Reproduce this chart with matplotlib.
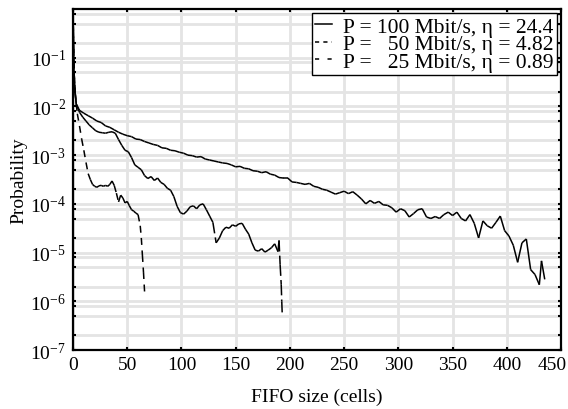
import numpy as np
import matplotlib.pyplot as plt
from matplotlib.collections import LineCollection
from matplotlib.lines import Line2D
from matplotlib.ticker import FixedLocator, FixedFormatter, NullFormatter

plt.rcParams['font.family'] = ['Liberation Serif', 'DejaVu Serif']
plt.rcParams['mathtext.fontset'] = 'stix'
plt.rcParams['lines.scale_dashes'] = False

# ------------ data (log10 of probability) ------------ #

x_head = [0, 1, 2, 3]
lp_head = [-0.05, -1.30, -1.72, -1.95]

# P = 100 Mbit/s
x_100 = x_head + list(range(6, 431, 4)) + [432, 435]
lp_100 = lp_head + [
    -2.08, -2.14, -2.19, -2.24, -2.30, -2.33, -2.40, -2.43, -2.48, -2.53,
    -2.57, -2.60, -2.62, -2.67, -2.68, -2.72, -2.75, -2.78, -2.80, -2.85,
    -2.86, -2.90, -2.91, -2.94, -2.96, -3.00, -3.01, -3.04, -3.03, -3.08,
    -3.10, -3.12, -3.14, -3.16, -3.17, -3.20, -3.24, -3.23, -3.27, -3.28,
    -3.32, -3.33, -3.36, -3.34, -3.39, -3.41, -3.46, -3.47, -3.47, -3.55,
    -3.56, -3.58, -3.60, -3.58, -3.64, -3.66, -3.70, -3.72, -3.76, -3.80,
    -3.77, -3.74, -3.79, -3.75, -3.82, -3.90, -4.00, -3.93, -3.99, -3.95,
    -4.02, -4.03, -4.08, -4.17, -4.10, -4.14, -4.27, -4.20, -4.12, -4.10,
    -4.27, -4.30, -4.26, -4.30, -4.22, -4.17, -4.24, -4.17, -4.30, -4.35,
    -4.22, -4.40, -4.70, -4.35, -4.45, -4.50, -4.38, -4.25, -4.55, -4.66,
    -4.85, -5.20, -4.80, -4.72, -5.35, -5.45, -5.66,
    -5.17, -5.55]

# P = 50 Mbit/s
x_50 = x_head + list(range(6, 190, 3)) + [190, 191, 192, 192.5, 193]
lp_50 = lp_head + [
    -2.12, -2.22, -2.30, -2.38, -2.44, -2.50, -2.53, -2.54, -2.55, -2.53,
    -2.52, -2.55, -2.68, -2.80, -2.90, -2.93, -3.05, -3.20, -3.25, -3.30,
    -3.42, -3.48, -3.44, -3.52, -3.47, -3.56, -3.60, -3.68, -3.72, -3.85,
    -4.05, -4.18, -4.21, -4.15, -4.06, -4.04, -4.10, -4.02, -4.00, -4.12,
    -4.25, -4.38, -4.80, -4.70, -4.55, -4.48, -4.50, -4.43, -4.46, -4.41,
    -4.40, -4.52, -4.62, -4.80, -4.95, -4.97, -4.92, -4.99, -4.95, -4.90,
    -4.82, -4.98,
    -4.75, -5.25, -5.65, -6.00, -6.30]

# P = 25 Mbit/s
x_25 = x_head + list(range(4, 62, 2)) + [62, 63, 64, 65, 66]
lp_25 = lp_head + [
    -2.15, -2.40, -2.67, -2.90, -3.15, -3.38, -3.50, -3.60, -3.64, -3.66,
    -3.63, -3.62, -3.64, -3.62, -3.64, -3.60, -3.53, -3.62, -3.78, -3.96,
    -3.82, -3.88, -3.98, -3.95, -4.04, -4.12, -4.15, -4.19, -4.22,
    -4.45, -4.70, -5.05, -5.40, -5.80]

labels = ['P = 100 Mbit/s, \u03b7 = 24.4',
          'P =   50 Mbit/s, \u03b7 = 4.82',
          'P =   25 Mbit/s, \u03b7 = 0.89']
line_styles = ['solid', (0, (8.0, 3.0)), (0, (5.0, 4.0))]
legend_styles = ['solid', (0, (3.0, 3.0)), (0, (3.0, 6.0))]

x_ticks = list(range(0, 451, 50))
x_ticklabels = [str(t) for t in x_ticks]

# ------------ plot ------------ #

fig = plt.figure(figsize=(5.68, 4.10), dpi=100)
ax = fig.add_axes([0.1285, 0.1439, 0.8592, 0.8317])
ax.set_yscale('log')
ax.set_xlim(0, 450)
ax.set_ylim(1e-7, 1)

handles = []
for xs, lp, ls, hs, lab in zip([x_100, x_50, x_25], [lp_100, lp_50, lp_25],
                               line_styles, legend_styles, labels):
    pts = np.column_stack([xs, 10.0 ** np.array(lp)])
    segs = np.stack([pts[:-1], pts[1:]], axis=1)
    # each segment restarts its dash pattern, like the old plotting tool
    lc = LineCollection(segs, colors='k', linewidths=1.1, linestyles=ls, zorder=3)
    ax.add_collection(lc)
    handles.append(Line2D([], [], color='k', lw=1.1, linestyle=hs, label=lab))

# last x label is drawn separately, nudged left so it stays in the figure
ax.xaxis.set_major_locator(FixedLocator(x_ticks))
ax.xaxis.set_major_formatter(FixedFormatter(x_ticklabels[:-1] + ['']))
ax.annotate(x_ticklabels[-1], xy=(x_ticks[-1], 0), xycoords=('data', 'axes fraction'),
            xytext=(-6, -4), textcoords='offset points', ha='center', va='top',
            fontsize=14)

ax.yaxis.set_major_locator(FixedLocator([10.0 ** k for k in range(-7, 0)]))
minor = [m * 10.0 ** k for k in range(-7, 0) for m in (2, 5, 8)]
ax.yaxis.set_minor_locator(FixedLocator(minor))
ax.yaxis.set_minor_formatter(NullFormatter())

ax.set_axisbelow(True)
ax.grid(True, which='both', axis='y', color='#e4e4e4', lw=2)
ax.grid(True, which='major', axis='x', color='#e4e4e4', lw=2)

ax.tick_params(which='both', direction='in', top=True, right=True,
               length=2.5, width=1.5, labelsize=14)
ax.tick_params(axis='x', pad=4)
ax.tick_params(axis='y', pad=5)
for s in ax.spines.values():
    s.set_linewidth(1.6)

ax.set_xlabel('FIFO size (cells)', fontsize=14, labelpad=11)
ax.set_ylabel('Probability', fontsize=14, labelpad=2)

leg = ax.legend(handles=handles, loc='upper right', fontsize=15.5,
                frameon=True, fancybox=False, edgecolor='k', framealpha=1,
                borderaxespad=0.2, borderpad=0.15, labelspacing=-0.12,
                handlelength=0.8, handletextpad=0.5)
leg.get_frame().set_linewidth(1.0)

fig.savefig('out.png', dpi=100)
